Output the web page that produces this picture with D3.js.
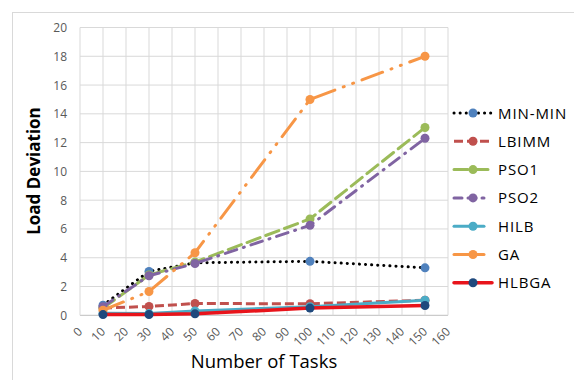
<!DOCTYPE html>
<html><head><meta charset="utf-8">
<script src="https://cdn.jsdelivr.net/npm/d3@7"></script>
<style>body{margin:0;background:#fff}svg{display:block}</style>
</head><body><svg id="c" width="574" height="380"></svg>
<script>
const tasks = [10, 30, 50, 100, 150];
const seriesNames = ["MIN-MIN", "LBIMM", "PSO1", "PSO2", "HILB", "GA", "HLBGA"];
const minmin = [0.7, 3.05, 3.65, 3.75, 3.3];
const lbimm = [0.5, 0.62, 0.82, 0.8, 1.05];
const pso1 = [0.5, 2.8, 3.7, 6.7, 13.05];
const pso2 = [0.6, 2.75, 3.6, 6.25, 12.3];
const hilb = [0.15, 0.12, 0.3, 0.6, 1.05];
const ga = [0.35, 1.65, 4.35, 15.0, 18.0];
const hlbga = [0.05, 0.05, 0.1, 0.5, 0.68];
const xTicks = [0,10,20,30,40,50,60,70,80,90,100,110,120,130,140,150,160];
const yTicks = [0,2,4,6,8,10,12,14,16,18,20];

const svg = d3.select("#c");
const x = d3.scaleLinear().domain([0,160]).range([80,448]);
const y = d3.scaleLinear().domain([0,20]).range([315.3,27.5]);

svg.append("rect").attr("x",12.5).attr("y",12.5).attr("width",570).attr("height",380)
  .attr("fill","none").attr("stroke","#D9D9D9");

const g = svg.append("g");
g.selectAll(".gy").data(yTicks).join("line")
  .attr("x1",x(0)).attr("x2",x(160)).attr("y1",d=>y(d)).attr("y2",d=>y(d))
  .attr("stroke",d=>d===0?"#BFBFBF":"#D9D9D9").attr("stroke-width",1);
g.selectAll(".gx").data(xTicks).join("line")
  .attr("x1",d=>x(d)).attr("x2",d=>x(d)).attr("y1",y(0)).attr("y2",y(20))
  .attr("stroke","#D9D9D9").attr("stroke-width",1);

const font = "'Open Sans', 'Liberation Sans', sans-serif";
svg.selectAll(".yl").data(yTicks).join("text")
  .attr("x",67).attr("y",d=>y(d)+4.5).attr("text-anchor","end")
  .attr("font-family",font).attr("font-size",12).attr("fill","#595959").text(d=>d);
svg.selectAll(".xl").data(xTicks).join("text")
  .attr("transform",d=>`translate(${x(d)+3},${y(0)+17}) rotate(-45)`)
  .attr("text-anchor","end").attr("font-family",font).attr("font-size",12).attr("fill","#595959").text(d=>d);

svg.append("text").attr("transform","translate(40,171) rotate(-90)").attr("text-anchor","middle")
  .attr("font-family",font).attr("font-weight","bold").attr("font-size",17).attr("fill","#000").text("Load Deviation");
svg.append("text").attr("x",264).attr("y",368).attr("text-anchor","middle")
  .attr("font-family",font).attr("font-size",18.5).attr("fill","#000").text("Number of Tasks");

const styles = [
  {vals:minmin, line:"#000", dash:"0.1 6", cap:"round", w:3, marker:"#4F81BD"},
  {vals:lbimm, line:"#C0504D", dash:"9 4", cap:"butt", w:3, marker:"#C0504D"},
  {vals:pso1, line:"#9BBB59", dash:"14 6", cap:"round", w:3, marker:"#9BBB59"},
  {vals:pso2, line:"#8064A2", dash:"12 7 1 7", cap:"round", w:3, marker:"#8064A2"},
  {vals:hilb, line:"#4BACC6", dash:null, cap:"round", w:3, marker:"#4BACC6"},
  {vals:ga, line:"#F79646", dash:"22 9 1 9 1 9", cap:"round", w:3, marker:"#F79646"},
  {vals:hlbga, line:"#E8141B", dash:null, cap:"round", w:3.5, marker:"#1F497D"}
];
const line = d3.line().x(d=>x(d[0])).y(d=>y(d[1]));
styles.forEach((s,i)=>{
  const pts = tasks.map((t,j)=>[t,s.vals[j]]);
  svg.append("path").attr("d",line(pts)).attr("fill","none").attr("stroke",s.line)
    .attr("stroke-width",s.w).attr("stroke-dasharray",s.dash).attr("stroke-linecap",s.cap);
  svg.selectAll(null).data(pts).join("circle").attr("cx",d=>x(d[0])).attr("cy",d=>y(d[1]))
    .attr("r",4.5).attr("fill",s.marker);
});

const lg = svg.append("g");
styles.forEach((s,i)=>{
  const yy = 113 + i*28.3;
  lg.append("line").attr("x1",454).attr("x2",i===3||i===4||i===5?484:492).attr("y1",yy).attr("y2",yy)
    .attr("stroke",s.line).attr("stroke-width",s.w).attr("stroke-dasharray",s.dash ? (i===3?"8 6":i===5?null:s.dash) : null)
    .attr("stroke-linecap",s.cap);
  lg.append("circle").attr("cx",473).attr("cy",yy).attr("r",4.5).attr("fill",s.marker);
  lg.append("text").attr("x",498).attr("y",yy+5.5).attr("font-family",font).attr("font-size",15)
    .attr("letter-spacing",0.9).attr("fill","#000").text(seriesNames[i]);
});
</script></body></html>
